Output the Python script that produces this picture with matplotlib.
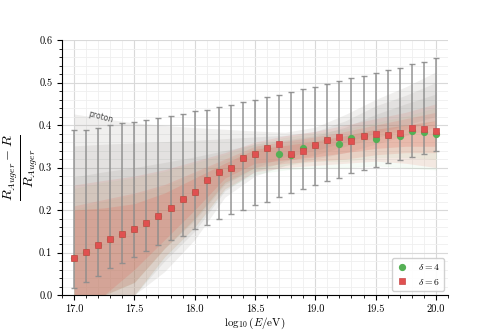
import numpy as np
import matplotlib
matplotlib.use("Agg")
import matplotlib.pyplot as plt
from matplotlib.ticker import MultipleLocator

plt.rcParams['font.family'] = 'serif'
plt.rcParams['font.serif'] = ['cmr10', 'DejaVu Serif']
plt.rcParams['mathtext.fontset'] = 'cm'
plt.rcParams['axes.formatter.use_mathtext'] = True

# ---- data ----
log_e = [17.0, 17.1, 17.2, 17.3, 17.4, 17.5, 17.6, 17.7, 17.8, 17.9, 18.0,
         18.1, 18.2, 18.3, 18.4, 18.5, 18.6, 18.7, 18.8, 18.9, 19.0,
         19.1, 19.2, 19.3, 19.4, 19.5, 19.6, 19.7, 19.8, 19.9, 20.0]
delta6 = [0.086, 0.102, 0.118, 0.132, 0.144, 0.155, 0.170, 0.187, 0.204, 0.226, 0.242,
          0.270, 0.289, 0.300, 0.322, 0.332, 0.346, 0.355, 0.333, 0.340, 0.353,
          0.365, 0.373, 0.363, 0.375, 0.378, 0.376, 0.382, 0.394, 0.391, 0.387]
delta4 = [0.086, 0.102, 0.118, 0.132, 0.144, 0.155, 0.170, 0.187, 0.204, 0.226, 0.242,
          0.270, 0.289, 0.300, 0.322, 0.332, 0.346, 0.333, 0.329, 0.347, 0.353,
          0.365, 0.355, 0.369, 0.375, 0.367, 0.376, 0.374, 0.386, 0.383, 0.380]
err_top = [0.388, 0.389, 0.392, 0.399, 0.404, 0.408, 0.413, 0.417, 0.421, 0.426, 0.432,
           0.436, 0.442, 0.447, 0.455, 0.460, 0.465, 0.471, 0.478, 0.484, 0.489,
           0.497, 0.503, 0.510, 0.516, 0.522, 0.529, 0.535, 0.543, 0.549, 0.558]
err_bottom = [0.016, 0.030, 0.044, 0.063, 0.075, 0.089, 0.104, 0.117, 0.129, 0.140, 0.155,
              0.165, 0.178, 0.191, 0.201, 0.212, 0.220, 0.231, 0.241, 0.249, 0.260,
              0.268, 0.276, 0.286, 0.294, 0.302, 0.310, 0.318, 0.325, 0.332, 0.338]

# band nodes
band_x = [17.0, 17.25, 17.5, 17.75, 18.0, 18.25, 18.5, 18.75, 19.0, 19.25, 19.5, 19.75, 20.0]
# proton (grey) bands: outer, mid, inner
p_up1 = [0.426, 0.415, 0.405, 0.399, 0.394, 0.390, 0.386, 0.383, 0.395, 0.425, 0.460, 0.490, 0.525]
p_lo1 = [0.0, 0.0, 0.0, 0.055, 0.13, 0.23, 0.28, 0.305, 0.32, 0.335, 0.355, 0.375, 0.395]
p_up2 = [0.351, 0.355, 0.358, 0.361, 0.364, 0.368, 0.372, 0.376, 0.385, 0.410, 0.445, 0.470, 0.500]
p_lo2 = [0.0, 0.0, 0.0, 0.08, 0.15, 0.245, 0.29, 0.315, 0.33, 0.35, 0.37, 0.39, 0.41]
p_up3 = [0.278, 0.290, 0.300, 0.312, 0.325, 0.340, 0.355, 0.365, 0.375, 0.395, 0.425, 0.450, 0.473]
p_lo3 = [0.0, 0.0, 0.03, 0.11, 0.175, 0.26, 0.30, 0.325, 0.34, 0.36, 0.38, 0.40, 0.42]
# delta=4 (green) bands
g_up1 = [0.25, 0.265, 0.275, 0.29, 0.31, 0.33, 0.355, 0.37, 0.38, 0.39, 0.405, 0.42, 0.44]
g_lo1 = [0.0, 0.0, 0.0, 0.09, 0.16, 0.25, 0.285, 0.295, 0.30, 0.30, 0.305, 0.30, 0.295]
g_up2 = [0.20, 0.22, 0.235, 0.255, 0.285, 0.315, 0.345, 0.355, 0.365, 0.375, 0.39, 0.40, 0.41]
g_lo2 = [0.0, 0.0, 0.03, 0.11, 0.18, 0.265, 0.295, 0.305, 0.315, 0.315, 0.325, 0.325, 0.32]
# delta=6 (red) bands
r_up1 = [0.259, 0.27, 0.28, 0.295, 0.315, 0.335, 0.36, 0.375, 0.385, 0.40, 0.415, 0.43, 0.45]
r_lo1 = [0.0, 0.0, 0.0, 0.09, 0.16, 0.25, 0.29, 0.30, 0.305, 0.31, 0.315, 0.31, 0.30]
r_up2 = [0.21, 0.225, 0.24, 0.26, 0.29, 0.32, 0.35, 0.362, 0.372, 0.385, 0.40, 0.415, 0.43]
r_lo2 = [0.0, 0.0, 0.03, 0.11, 0.18, 0.265, 0.30, 0.31, 0.315, 0.32, 0.33, 0.335, 0.335]
r_up3 = [0.20, 0.205, 0.215, 0.24, 0.275, 0.31, 0.343, 0.352, 0.362, 0.375, 0.39, 0.40, 0.41]
r_lo3 = [0.0, 0.0, 0.06, 0.13, 0.20, 0.275, 0.31, 0.318, 0.325, 0.335, 0.345, 0.35, 0.35]

x_ticks = [17.0, 17.5, 18.0, 18.5, 19.0, 19.5, 20.0]
y_ticks = [0.0, 0.1, 0.2, 0.3, 0.4, 0.5, 0.6]

# ---- figure ----
fig = plt.figure(figsize=(4.98, 3.32), dpi=100)
ax = fig.add_axes([0.1245, 0.1114, 0.775, 0.768])

ax.set_xlim(16.9, 20.1)
ax.set_ylim(0.0, 0.6)
ax.xaxis.set_minor_locator(MultipleLocator(0.1))
ax.yaxis.set_minor_locator(MultipleLocator(0.02))
ax.set_xticks(x_ticks)
ax.set_xticklabels([f"{v:.1f}" for v in x_ticks])
ax.set_yticks(y_ticks)
ax.set_yticklabels([f"{v:.1f}" for v in y_ticks])
ax.grid(which='major', color='#d9d9d9', linewidth=0.8, zorder=0)
ax.grid(which='minor', color='#efefef', linewidth=0.6, zorder=0)
ax.set_axisbelow(True)
for s in ['top', 'right']:
    ax.spines[s].set_visible(False)
ax.tick_params(which='both', direction='out', labelsize=7.5)
ax.tick_params(which='major', length=3.5, width=0.8)
ax.tick_params(which='minor', length=2, width=0.6)

# bands
for lo, up in [(p_lo1, p_up1), (p_lo2, p_up2), (p_lo3, p_up3)]:
    ax.fill_between(band_x, lo, up, color='#8c8883', alpha=0.13, linewidth=0, zorder=1)
for lo, up in [(g_lo1, g_up1), (g_lo2, g_up2)]:
    ax.fill_between(band_x, lo, up, facecolor='#8fd88f', alpha=0.08,
                    edgecolor='#a5e5a5', linewidth=0.5, zorder=1.2)
for lo, up, a in [(r_lo1, r_up1, 0.12), (r_lo2, r_up2, 0.15), (r_lo3, r_up3, 0.20)]:
    ax.fill_between(band_x, lo, up, color='#e4604f', alpha=a, linewidth=0, zorder=1.4)

# error bars
d6 = np.array(delta6)
yerr = [d6 - np.array(err_bottom), np.array(err_top) - d6]
ax.errorbar(log_e, d6, yerr=yerr, fmt='none', ecolor='#8c8c8c', elinewidth=1.1,
            capsize=2.3, capthick=1.0, alpha=0.9, zorder=2)

ax.plot(log_e, delta4, 'o', color='#55b055', markersize=4.2, linestyle='none',
        label=r'$\delta = 4$', zorder=3)
ax.plot(log_e, delta6, 's', color='#e05050', markeredgecolor='#c84848', markersize=4.6,
        markeredgewidth=0.5, linestyle='none', label=r'$\delta = 6$', zorder=4)

ax.text(17.22, 0.419, 'proton', fontsize=5.5, color='#444444', rotation=-15,
        ha='center', va='center', family='DejaVu Sans', zorder=5)

ax.set_xlabel(r'$\log_{10}(E/\mathrm{eV})$', fontsize=8, labelpad=1)
ax.set_ylabel(r'$\frac{R_{Auger} - R}{R_{Auger}}$', fontsize=14.5)
ax.yaxis.set_label_coords(-0.058, 0.5)

leg = ax.legend(loc='lower right', fontsize=7, frameon=True, framealpha=0.9,
                edgecolor='#cccccc', handletextpad=1.0, handlelength=1.2,
                borderpad=0.45, labelspacing=0.45, fancybox=True,
                borderaxespad=0.4)

fig.savefig('out.png', dpi=100)
